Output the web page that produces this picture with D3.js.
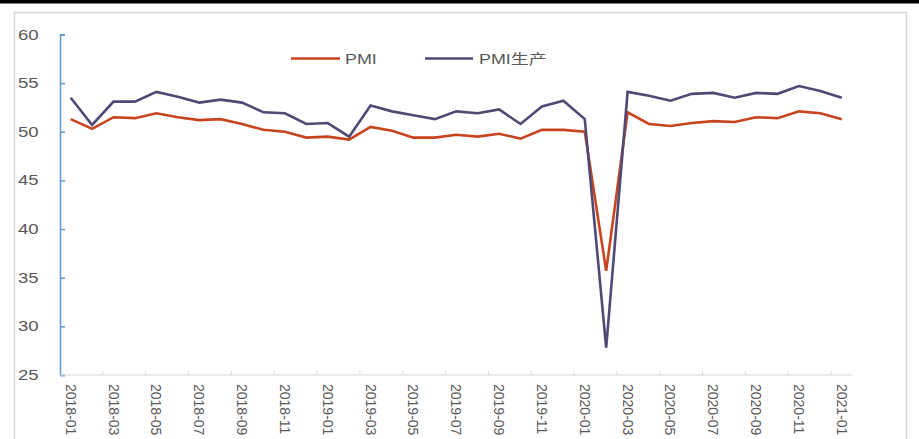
<!DOCTYPE html>
<html><head><meta charset="utf-8">
<script src="https://cdn.jsdelivr.net/npm/d3@7/dist/d3.min.js"></script>
<style>
html,body{margin:0;padding:0;background:#fff;}
text{font-family:"Liberation Sans",Arial,"Noto Sans CJK SC",sans-serif;}
</style></head>
<body>
<svg id="c" width="919" height="439"></svg>
<script>
const months = ["2018-01","2018-02","2018-03","2018-04","2018-05","2018-06","2018-07","2018-08","2018-09","2018-10","2018-11","2018-12",
"2019-01","2019-02","2019-03","2019-04","2019-05","2019-06","2019-07","2019-08","2019-09","2019-10","2019-11","2019-12",
"2020-01","2020-02","2020-03","2020-04","2020-05","2020-06","2020-07","2020-08","2020-09","2020-10","2020-11","2020-12","2021-01"];
const pmi = [51.3,50.3,51.5,51.4,51.9,51.5,51.2,51.3,50.8,50.2,50.0,49.4,
49.5,49.2,50.5,50.1,49.4,49.4,49.7,49.5,49.8,49.3,50.2,50.2,
50.0,35.7,52.0,50.8,50.6,50.9,51.1,51.0,51.5,51.4,52.1,51.9,51.3];
const pmiProd = [53.5,50.7,53.1,53.1,54.1,53.6,53.0,53.3,53.0,52.0,51.9,50.8,
50.9,49.5,52.7,52.1,51.7,51.3,52.1,51.9,52.3,50.8,52.6,53.2,
51.3,27.8,54.1,53.7,53.2,53.9,54.0,53.5,54.0,53.9,54.7,54.2,53.5];
const yTicks = [25,30,35,40,45,50,55,60];
const seriesNames = ["PMI","PMI生产"];
const colors = ["#C8441F","#4E4A75"];

const svg = d3.select("#c");
// frame
svg.append("rect").attr("x",0).attr("y",0).attr("width",919).attr("height",3.5).attr("fill","#000");
svg.append("rect").attr("x",14.5).attr("y",12.5).attr("width",892).attr("height",440)
  .attr("fill","none").attr("stroke","#d9d9d9").attr("stroke-width",1.5);

const L=60, R=852.5, T=34.5, B=375;
const x = d3.scaleBand().domain(months).range([L,R]).paddingInner(0).paddingOuter(0);
const y = d3.scaleLinear().domain([25,60]).range([B,T]);
const cx = d => x(d)+x.bandwidth()/2;

// y axis
const ya = svg.append("g").attr("transform",`translate(${L},0)`)
  .call(d3.axisRight(y).tickValues(yTicks).tickSize(5).tickFormat(""));
ya.select(".domain").attr("stroke","#5B9BD5").attr("stroke-width",1.5);
ya.selectAll(".tick line").attr("stroke","#5B9BD5").attr("stroke-width",1.5);
svg.append("g").selectAll("text").data(yTicks).join("text")
  .attr("transform",d=>`translate(18,${y(d)+5}) scale(1.28,1)`)
  .attr("font-size",14.5).attr("fill","#595959").text(d=>d);

// x axis
svg.append("line").attr("x1",L).attr("x2",R).attr("y1",B).attr("y2",B).attr("stroke","#d9d9d9").attr("stroke-width",1.2);
const tickIdx = d3.range(2, months.length, 2);
svg.append("g").selectAll("line").data(tickIdx).join("line")
  .attr("x1",i=>x(months[i])).attr("x2",i=>x(months[i]))
  .attr("y1",B-4).attr("y2",B).attr("stroke","#d9d9d9").attr("stroke-width",1);
const labIdx = d3.range(0, months.length, 2);
svg.append("g").selectAll("text").data(labIdx).join("text")
  .attr("transform",i=>`translate(${cx(months[i])-5},384) rotate(90)`)
  .attr("font-size",14).attr("fill","#595959").text(i=>months[i]);

// lines
const line = d3.line().x((d,i)=>cx(months[i])).y(d=>y(d));
[pmi,pmiProd].forEach((s,k)=>{
  svg.append("path").datum(s).attr("d",line).attr("fill","none")
    .attr("stroke",colors[k]).attr("stroke-width",2.6).attr("stroke-linejoin","miter");
});

// legend
const lg = [{x1:291,x2:340,tx:345},{x1:425,x2:473,tx:479}];
lg.forEach((g,k)=>{
  svg.append("line").attr("x1",g.x1).attr("x2",g.x2).attr("y1",58.5).attr("y2",58.5)
    .attr("stroke",colors[k]).attr("stroke-width",2.6);
  svg.append("text").attr("transform",`translate(${g.tx},63.5) scale(1.28,1)`)
    .attr("font-size",14).attr("fill","#595959").text(seriesNames[k]);
});
</script>
</body></html>
